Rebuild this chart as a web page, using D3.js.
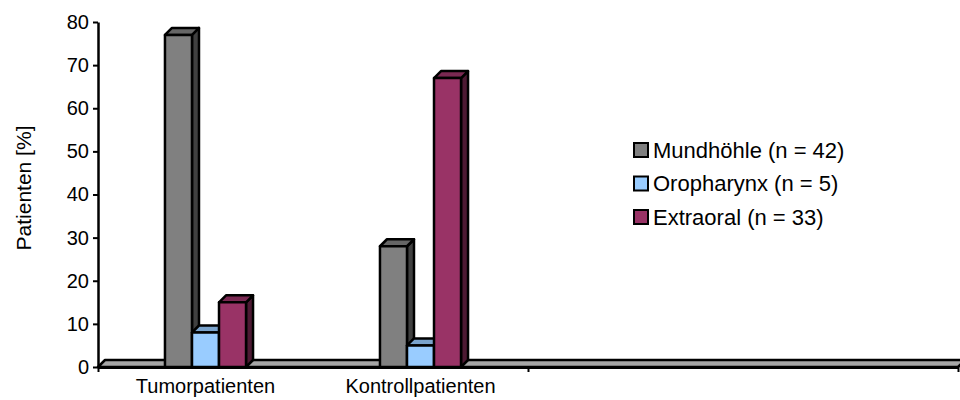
<!DOCTYPE html>
<html>
<head>
<meta charset="utf-8">
<script src="https://cdn.jsdelivr.net/npm/d3@7"></script>
<style>
  html, body { margin: 0; padding: 0; background: #fff; }
  svg { display: block; font-family: "Liberation Sans", Arial, sans-serif; }
</style>
</head>
<body>
<svg id="chart" width="960" height="400"></svg>
<script>
// ---- data ----
const categories = ["Tumorpatienten", "Kontrollpatienten"];
const seriesNames = ["Mundhöhle (n = 42)", "Oropharynx (n = 5)", "Extraoral (n = 33)"];
const mundhoehle = [77, 28];
const oropharynx = [8, 5];
const extraoral = [15, 67];
const yTicks = [0, 10, 20, 30, 40, 50, 60, 70, 80];
const yTitle = "Patienten [%]";

(function () {
// ---- styles ----
const faceFront = ["#808080", "#99ccff", "#993366"];
const faceTop   = ["#666666", "#7aa3cc", "#7a2952"];
const faceSide  = ["#404040", "#5c7a99", "#4d1a33"];

const series = [mundhoehle, oropharynx, extraoral];
const svg = d3.select("#chart");

const plotL = 98, plotR = 958, plotT = 22, plotB = 367;
const dx = 7, dy = 7;
const nSlots = 4;

const y = d3.scaleLinear().domain([0, 80]).range([plotB, plotT]);
const xBand = d3.scaleBand().domain(d3.range(nSlots)).range([plotL, plotR]);
const groupW = xBand.bandwidth() * 0.377;
const xInner = d3.scaleBand().domain(d3.range(series.length)).range([0, groupW]);
const pts = a => a.map(p => p.join(",")).join(" ");

// floor
svg.append("polygon")
  .attr("points", pts([[plotL, plotB], [plotL + dx, plotB - dy], [plotR + dx, plotB - dy], [plotR, plotB]]))
  .attr("fill", "#a6a6a6").attr("stroke", "#000").attr("stroke-width", 2.5).attr("stroke-linejoin", "round");

// bars
categories.forEach((cat, i) => {
  const gx = xBand(i) + (xBand.bandwidth() - groupW) / 2;
  series.forEach((vals, j) => {
    const v = vals[i];
    const x0 = gx + xInner(j), w = xInner.bandwidth();
    const yv = y(v), y0 = y(0);
    const g = svg.append("g").attr("stroke", "#000").attr("stroke-width", 2.5).attr("stroke-linejoin", "round");
    g.append("polygon").attr("fill", faceSide[j])
      .attr("points", pts([[x0 + w, yv], [x0 + w + dx, yv - dy], [x0 + w + dx, y0 - dy], [x0 + w, y0]]));
    g.append("polygon").attr("fill", faceTop[j])
      .attr("points", pts([[x0, yv], [x0 + dx, yv - dy], [x0 + w + dx, yv - dy], [x0 + w, yv]]));
    g.append("rect").attr("fill", faceFront[j])
      .attr("x", x0).attr("y", yv).attr("width", w).attr("height", y0 - yv);
  });
});

// y axis
const yAxis = svg.append("g").attr("transform", `translate(${plotL},0)`)
  .call(d3.axisLeft(y).tickValues(yTicks).tickSize(5).tickSizeOuter(0).tickPadding(4));
yAxis.select(".domain").attr("stroke", "#000").attr("stroke-width", 2.5);
yAxis.selectAll(".tick line").attr("stroke", "#000").attr("stroke-width", 2);
yAxis.selectAll(".tick text").attr("font-size", 20).attr("fill", "#000")
  .attr("font-family", "Liberation Sans, Arial, sans-serif");

// x axis: ticks at every second category boundary
const xBound = d3.scaleLinear().domain([0, nSlots]).range([plotL, plotR]);
const xAxis = svg.append("g").attr("transform", `translate(0,${plotB})`)
  .call(d3.axisBottom(xBound).tickValues([0, 2, 4]).tickSize(5).tickSizeOuter(0).tickFormat(""));
xAxis.select(".domain").attr("stroke", "#000").attr("stroke-width", 3);
xAxis.selectAll(".tick line").attr("stroke", "#000").attr("stroke-width", 2);

// category labels
const xLab = svg.append("g").attr("transform", `translate(0,${plotB})`)
  .call(d3.axisBottom(xBand).tickSize(0).tickPadding(12).tickFormat(i => categories[i] || ""));
xLab.select(".domain").remove();
xLab.selectAll(".tick text").attr("font-size", 20).attr("fill", "#000")
  .attr("font-family", "Liberation Sans, Arial, sans-serif");

// y title
svg.append("text")
  .attr("transform", "translate(23,188) rotate(-90)")
  .attr("text-anchor", "middle").attr("dominant-baseline", "central")
  .attr("font-size", 21).attr("fill", "#000")
  .text(yTitle);

// legend
const legend = svg.append("g").attr("transform", "translate(634,150)");
seriesNames.forEach((name, j) => {
  const row = legend.append("g").attr("transform", `translate(0,${j * 33.5})`);
  row.append("rect").attr("x", 0).attr("y", -7).attr("width", 14).attr("height", 14)
    .attr("fill", faceFront[j]).attr("stroke", "#000").attr("stroke-width", 2);
  row.append("text").attr("x", 19).attr("y", 0).attr("dominant-baseline", "central")
    .attr("font-size", 22).attr("fill", "#000").text(name);
});
})();
</script>
</body>
</html>
